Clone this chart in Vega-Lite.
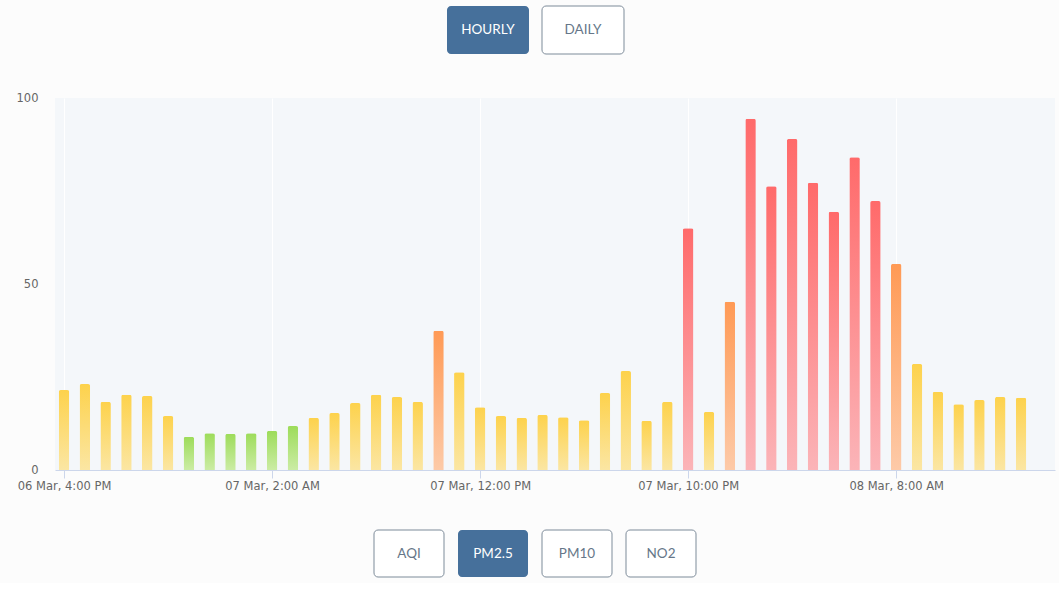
{
  "$schema": "https://vega.github.io/schema/vega-lite/v6.json",
  "background": "#fcfcfc",
  "padding": {"left": 16, "top": 5, "right": 4, "bottom": 5},
  "config": {"view": {"stroke": null}, "font": "DejaVu Sans"},
  "spacing": 37,
  "center": true,
  "vconcat": [
    {
      "width": 367,
      "height": 48,
      "data": {"values": [{"label": "HOURLY", "selected": true}, {"label": "DAILY", "selected": false}]},
      "encoding": {
        "x": {"field": "label", "type": "nominal", "sort": ["HOURLY", "DAILY"], "scale": {"paddingInner": 0.1368, "paddingOuter": 1, "align": 0.3974}, "axis": null}
      },
      "layer": [
        {"transform": [{"filter": "datum.selected"}], "mark": {"type": "rect", "fill": "#46709b", "cornerRadius": 4}},
        {"transform": [{"filter": "!datum.selected"}], "mark": {"type": "rect", "fill": "#ffffff", "stroke": "#7d8b99", "strokeWidth": 1, "cornerRadius": 4}},
        {"mark": {"type": "text", "font": "Lato", "fontSize": 13.5},
         "encoding": {"text": {"field": "label"}, "color": {"condition": {"test": "datum.selected", "value": "#ffffff"}, "value": "#667789"}}}
      ]
    },
    {
      "width": 1000,
      "height": 372,
      "view": {"fill": "#f4f7fa", "stroke": null},
      "data": {"values": [
        {"time": "2024-03-06T16:00", "pm25": 21.5},
        {"time": "2024-03-06T17:00", "pm25": 23.1},
        {"time": "2024-03-06T18:00", "pm25": 18.3},
        {"time": "2024-03-06T19:00", "pm25": 20.2},
        {"time": "2024-03-06T20:00", "pm25": 19.9},
        {"time": "2024-03-06T21:00", "pm25": 14.5},
        {"time": "2024-03-06T22:00", "pm25": 8.9},
        {"time": "2024-03-06T23:00", "pm25": 9.9},
        {"time": "2024-03-07T00:00", "pm25": 9.7},
        {"time": "2024-03-07T01:00", "pm25": 9.9},
        {"time": "2024-03-07T02:00", "pm25": 10.5},
        {"time": "2024-03-07T03:00", "pm25": 11.8},
        {"time": "2024-03-07T04:00", "pm25": 14.0},
        {"time": "2024-03-07T05:00", "pm25": 15.3},
        {"time": "2024-03-07T06:00", "pm25": 18.0},
        {"time": "2024-03-07T07:00", "pm25": 20.2},
        {"time": "2024-03-07T08:00", "pm25": 19.6},
        {"time": "2024-03-07T09:00", "pm25": 18.3},
        {"time": "2024-03-07T10:00", "pm25": 37.4},
        {"time": "2024-03-07T11:00", "pm25": 26.3},
        {"time": "2024-03-07T12:00", "pm25": 16.9},
        {"time": "2024-03-07T13:00", "pm25": 14.5},
        {"time": "2024-03-07T14:00", "pm25": 14.0},
        {"time": "2024-03-07T15:00", "pm25": 14.8},
        {"time": "2024-03-07T16:00", "pm25": 14.2},
        {"time": "2024-03-07T17:00", "pm25": 13.4},
        {"time": "2024-03-07T18:00", "pm25": 20.7},
        {"time": "2024-03-07T19:00", "pm25": 26.6},
        {"time": "2024-03-07T20:00", "pm25": 13.2},
        {"time": "2024-03-07T21:00", "pm25": 18.3},
        {"time": "2024-03-07T22:00", "pm25": 65.0},
        {"time": "2024-03-07T23:00", "pm25": 15.6},
        {"time": "2024-03-08T00:00", "pm25": 45.2},
        {"time": "2024-03-08T01:00", "pm25": 94.4},
        {"time": "2024-03-08T02:00", "pm25": 76.3},
        {"time": "2024-03-08T03:00", "pm25": 89.0},
        {"time": "2024-03-08T04:00", "pm25": 77.2},
        {"time": "2024-03-08T05:00", "pm25": 69.4},
        {"time": "2024-03-08T06:00", "pm25": 84.1},
        {"time": "2024-03-08T07:00", "pm25": 72.3},
        {"time": "2024-03-08T08:00", "pm25": 55.4},
        {"time": "2024-03-08T09:00", "pm25": 28.5},
        {"time": "2024-03-08T10:00", "pm25": 21.0},
        {"time": "2024-03-08T11:00", "pm25": 17.7},
        {"time": "2024-03-08T12:00", "pm25": 18.8},
        {"time": "2024-03-08T13:00", "pm25": 19.6},
        {"time": "2024-03-08T14:00", "pm25": 19.4}
      ]},
      "encoding": {
        "x": {
          "field": "time", "type": "temporal",
          "scale": {"nice": false, "padding": 0, "domain": [
            {"year": 2024, "month": 3, "date": 6, "hours": 15, "minutes": 34},
            {"year": 2024, "month": 3, "date": 8, "hours": 15, "minutes": 38}
          ]},
          "axis": {
            "title": null,
            "values": [
              {"year": 2024, "month": 3, "date": 6, "hours": 16},
              {"year": 2024, "month": 3, "date": 7, "hours": 2},
              {"year": 2024, "month": 3, "date": 7, "hours": 12},
              {"year": 2024, "month": 3, "date": 7, "hours": 22},
              {"year": 2024, "month": 3, "date": 8, "hours": 8}
            ],
            "format": "%d %b, %-I:%M %p",
            "labelFont": "DejaVu Sans", "labelFontSize": 11.5, "labelColor": "#666666",
            "domainColor": "#ccd6eb", "tickColor": "#ccd6eb", "tickSize": 8, "labelPadding": 2,
            "grid": true, "gridColor": "#ffffff", "gridWidth": 1,
            "labelFlush": false, "labelOverlap": false
          }
        },
        "y": {
          "field": "pm25", "type": "quantitative",
          "scale": {"domain": [0, 100], "nice": false},
          "axis": {
            "title": null, "values": [0, 50, 100], "grid": false, "domain": false, "ticks": false, "tickSize": 0,
            "labelPadding": 17, "labelFont": "DejaVu Sans", "labelFontSize": 11.5, "labelColor": "#666666", "labelFlush": false
          }
        }
      },
      "layer": [
        {"transform": [{"filter": {"field": "pm25", "lt": 12}}],
         "mark": {"type": "bar", "width": 10.5, "cornerRadiusEnd": 2,
           "color": {"gradient": "linear", "x1": 0, "y1": 0, "x2": 0, "y2": 1, "stops": [{"offset": 0, "color": "#9ddc5a"}, {"offset": 1, "color": "#cbeca4"}]}}},
        {"transform": [{"filter": {"field": "pm25", "range": [12, 35.4]}}],
         "mark": {"type": "bar", "width": 10.5, "cornerRadiusEnd": 2,
           "color": {"gradient": "linear", "x1": 0, "y1": 0, "x2": 0, "y2": 1, "stops": [{"offset": 0, "color": "#fdd24c"}, {"offset": 1, "color": "#fbe6a3"}]}}},
        {"transform": [{"filter": {"field": "pm25", "range": [35.5, 55.4]}}],
         "mark": {"type": "bar", "width": 10.5, "cornerRadiusEnd": 2,
           "color": {"gradient": "linear", "x1": 0, "y1": 0, "x2": 0, "y2": 1, "stops": [{"offset": 0, "color": "#ff9a55"}, {"offset": 1, "color": "#fdcaa8"}]}}},
        {"transform": [{"filter": {"field": "pm25", "gt": 55.4}}],
         "mark": {"type": "bar", "width": 10.5, "cornerRadiusEnd": 2,
           "color": {"gradient": "linear", "x1": 0, "y1": 0, "x2": 0, "y2": 1, "stops": [{"offset": 0, "color": "#ff6a6a"}, {"offset": 1, "color": "#fbb4b8"}]}}}
      ]
    },
    {
      "width": 490,
      "height": 47,
      "data": {"values": [
        {"label": "AQI", "selected": false},
        {"label": "PM2.5", "selected": true},
        {"label": "PM10", "selected": false},
        {"label": "NO2", "selected": false}
      ]},
      "encoding": {
        "x": {"field": "label", "type": "nominal", "sort": ["AQI", "PM2.5", "PM10", "NO2"], "scale": {"paddingInner": 0.1667, "paddingOuter": 1, "align": 0.381}, "axis": null}
      },
      "layer": [
        {"transform": [{"filter": "datum.selected"}], "mark": {"type": "rect", "fill": "#46709b", "cornerRadius": 4}},
        {"transform": [{"filter": "!datum.selected"}], "mark": {"type": "rect", "fill": "#ffffff", "stroke": "#7d8b99", "strokeWidth": 1, "cornerRadius": 4}},
        {"mark": {"type": "text", "font": "Lato", "fontSize": 13.5},
         "encoding": {"text": {"field": "label"}, "color": {"condition": {"test": "datum.selected", "value": "#ffffff"}, "value": "#667789"}}}
      ]
    }
  ]
}
